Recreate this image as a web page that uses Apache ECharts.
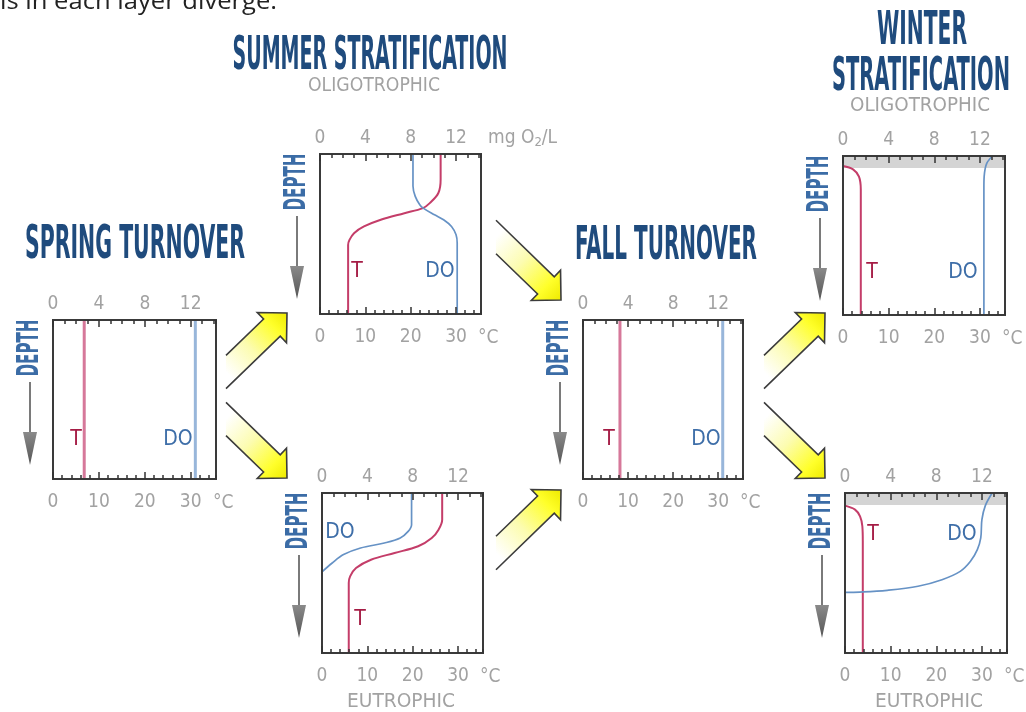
<!DOCTYPE html>
<html>
<head>
<meta charset="utf-8">
<script src="https://cdn.jsdelivr.net/npm/echarts@6/dist/echarts.min.js"></script>
<style>
  html, body { margin: 0; padding: 0; background: #fff; }
  #chart { width: 1026px; height: 712px; }
</style>
</head>
<body>
<div id="chart"></div>
<script>
// profiles: [value, relative depth 0 (surface) .. 1 (bottom)]
// T on the °C scale, DO on the mg O2/L scale
const springT = [[6.8, 0], [6.8, 1]];
const springDO = [[12.4, 0], [12.4, 1]];

const summerOligoT = [[26.6, 0], [26.6, 0.16], [26.1, 0.244], [24.2, 0.307], [22.7, 0.338], [18.6, 0.37],
  [13.4, 0.411], [9.7, 0.453], [7.5, 0.495], [6.5, 0.537], [6.2, 0.568], [6.2, 1]];
const summerOligoDO = [[8.2, 0], [8.2, 0.2], [8.4, 0.265], [8.8, 0.317], [9.1, 0.338], [10.1, 0.38],
  [10.9, 0.411], [11.6, 0.453], [12.0, 0.505], [12.1, 0.557], [12.1, 1]];

const summerEutroT = [[26.5, 0], [26.5, 0.167], [25.7, 0.229], [24.2, 0.281], [21.2, 0.333], [16.0, 0.375],
  [10.8, 0.417], [7.5, 0.469], [6.2, 0.521], [5.9, 0.5625], [5.9, 1]];
const summerEutroDO = [[7.9, 0], [7.9, 0.198], [7.6, 0.24], [6.9, 0.281], [5.5, 0.3125], [3.4, 0.344],
  [1.9, 0.385], [0.9, 0.4375], [0.05, 0.49]];

const fallT = [[8.2, 0], [8.2, 1]];
const fallDO = [[12.4, 0], [12.4, 1]];

const winterOligoT = [[0, 0.063], [2.2, 0.084], [3.5, 0.13], [3.9, 0.21], [3.9, 1]];
const winterOligoDO = [[13.1, 0], [12.6, 0.046], [12.4, 0.109], [12.35, 0.19], [12.35, 1]];

const winterEutroT = [[0, 0.079], [2.2, 0.104], [3.3, 0.146], [3.8, 0.208], [3.9, 0.3], [3.9, 1]];
const winterEutroDO = [[12.9, 0], [12.3, 0.079], [12.0, 0.167], [11.9, 0.281], [11.6, 0.354], [11.0, 0.427],
  [10.1, 0.49], [8.5, 0.542], [6.4, 0.583], [3.7, 0.608], [1.3, 0.619], [0, 0.621]];

const iceDepth = 0.075;

// scales
const mgMax = 14.2, mgMajor = 4, mgMinor = 1;
const tempMax = 35.5, tempMajor = 10, tempMinor = 2;
const tempUnit = '°C';

const LABEL_FONT = '"Liberation Sans Narrow", "DejaVu Sans Condensed", Roboto, sans-serif';
const TITLE_BLUE = '#1f4b7d';
const GRAY = '#a2a2a2';

// panel boxes [left, top, width, height] and label spots relative to box
const panels = [
  { box: [53, 320, 163, 159], T: springT, DO: springDO, flat: true, tAt: [23, 120], doAt: [125, 120] },
  { box: [320, 154, 161, 160], T: summerOligoT, DO: summerOligoDO, tAt: [37, 118], doAt: [120, 118], unit: true },
  { box: [322, 493, 161, 160], T: summerEutroT, DO: summerEutroDO, tAt: [38, 127], doAt: [18, 40] },
  { box: [583, 320, 160, 159], T: fallT, DO: fallDO, flat: true, tAt: [26, 120], doAt: [123, 120] },
  { box: [843, 156, 162, 159], T: winterOligoT, DO: winterOligoDO, ice: true, tAt: [29, 117], doAt: [120, 117] },
  { box: [845, 493, 162, 160], T: winterEutroT, DO: winterEutroDO, ice: true, tAt: [28, 42], doAt: [117, 42] }
];

const titles = [
  { text: 'SUMMER STRATIFICATION', cx: 370, cy: 57, w: 275 },
  { text: 'SPRING TURNOVER', cx: 135, cy: 246, w: 220 },
  { text: 'FALL TURNOVER', cx: 666, cy: 247, w: 182 },
  { text: 'WINTER', cx: 922, cy: 32, w: 90 },
  { text: 'STRATIFICATION', cx: 921, cy: 78, w: 178 }
];
const subtitles = [
  { text: 'OLIGOTROPHIC', cx: 374, cy: 86, w: 132 },
  { text: 'OLIGOTROPHIC', cx: 920, cy: 106, w: 140 },
  { text: 'EUTROPHIC', cx: 401, cy: 702, w: 108 },
  { text: 'EUTROPHIC', cx: 929, cy: 702, w: 108 }
];

// [tail centre, tip]
const flowArrows = [
  [[226, 372], [287, 313]],
  [[226, 419], [287, 478]],
  [[496, 237], [561, 300]],
  [[496, 553], [561, 490]],
  [[764, 372], [825, 313]],
  [[764, 419], [825, 478]]
];

const measureCtx = document.createElement('canvas').getContext('2d');
function fitScale(text, font, width) {
  measureCtx.font = font;
  return width / measureCtx.measureText(text).width;
}

function fittedText(t, size, weight, color) {
  const font = weight + ' ' + size + 'px ' + LABEL_FONT;
  return {
    type: 'text', x: t.cx, y: t.cy, scaleX: fitScale(t.text, font, t.w),
    style: { text: t.text, fontSize: size, fontWeight: weight, fontFamily: LABEL_FONT,
      fill: color, align: 'center', verticalAlign: 'middle' }
  };
}

function arrowElements(tail, tip) {
  const dx = tip[0] - tail[0], dy = tip[1] - tail[1];
  const L = Math.hypot(dx, dy);
  const u = [dx / L, dy / L], n = [-u[1], u[0]];
  const sw = 12, hw = 21, hl = 21;
  const at = (a, b) => [tail[0] + a * u[0] + b * n[0], tail[1] + a * u[1] + b * n[1]];
  // tail is cut along a vertical line through the tail centre
  const cut = b => -b * n[0] / u[0];
  const pts = [at(cut(-sw), -sw), at(L - hl, -sw), at(L - hl, -hw), at(L, 0), at(L - hl, hw), at(L - hl, sw), at(cut(sw), sw)];
  return [
    {
      type: 'polygon', shape: { points: pts },
      style: {
        fill: {
          type: 'linear', x: tail[0], y: tail[1], x2: tip[0], y2: tip[1], global: true,
          colorStops: [
            { offset: 0, color: '#ffffff' }, { offset: 0.4, color: '#fcfcb0' },
            { offset: 0.78, color: '#ffff2a' }, { offset: 1, color: '#eeea00' }
          ]
        }
      }
    },
    { type: 'polyline', shape: { points: pts }, style: { stroke: '#3c3c3c', lineWidth: 1.6, fill: null } }
  ];
}

function depthMarker(bl, bt) {
  const x = bl - 23;
  const font = 'bold 30px ' + LABEL_FONT;
  return [
    {
      type: 'text', x: x, y: bt + 28, rotation: Math.PI / 2, scaleX: fitScale('DEPTH', font, 57),
      style: { text: 'DEPTH', fontSize: 30, fontWeight: 'bold', fontFamily: LABEL_FONT,
        fill: '#3b6ca6', align: 'center', verticalAlign: 'middle' }
    },
    { type: 'line', shape: { x1: x, y1: bt + 62, x2: x, y2: bt + 113 }, style: { stroke: '#7a7a7a', lineWidth: 2 } },
    {
      type: 'polygon', shape: { points: [[x - 7, bt + 112], [x + 7, bt + 112], [x, bt + 145]] },
      style: { fill: { type: 'linear', x: 0, y: 0, x2: 0, y2: 1,
        colorStops: [{ offset: 0, color: '#8a8a8a' }, { offset: 1, color: '#555' }] } }
    }
  ];
}

const grids = [], xAxes = [], yAxes = [], series = [], graphics = [];
const tickStyle = { color: '#333', width: 1.5 };

panels.forEach((p, gi) => {
  const [bl, bt, bw, bh] = p.box;
  grids.push({ left: bl, top: bt, width: bw, height: bh, show: true, borderColor: '#3a3a3a',
    borderWidth: 2, backgroundColor: 'transparent', z: 4 });
  const base = { type: 'value', gridIndex: gi, axisLine: { show: false }, splitLine: { show: false }, z: 5 };
  const label = { color: GRAY, fontSize: 19, fontFamily: LABEL_FONT, showMaxLabel: false, showMinLabel: true };
  xAxes.push(
    { ...base, position: 'top', min: 0, max: mgMax, interval: mgMajor,
      axisTick: { inside: true, length: 7, lineStyle: tickStyle }, axisLabel: { ...label, margin: 6 } },
    { ...base, position: 'top', min: 0, max: mgMax, interval: mgMinor,
      axisTick: { inside: true, length: 4, lineStyle: tickStyle }, axisLabel: { show: false } },
    { ...base, position: 'bottom', min: 0, max: tempMax, interval: tempMajor,
      axisTick: { inside: true, length: 7, lineStyle: tickStyle }, axisLabel: { ...label, margin: 14 } },
    { ...base, position: 'bottom', min: 0, max: tempMax, interval: tempMinor,
      axisTick: { inside: true, length: 4, lineStyle: tickStyle }, axisLabel: { show: false } }
  );
  yAxes.push({ type: 'value', gridIndex: gi, inverse: true, min: 0, max: 1, show: false });

  const tColor = p.flat ? '#d6789a' : '#c43d69';
  const doColor = p.flat ? '#98b6da' : '#6692c5';
  series.push({
    name: 'T', type: 'line', xAxisIndex: gi * 4 + 2, yAxisIndex: gi, data: p.T,
    symbol: 'none', smooth: 0.35, z: 3,
    lineStyle: { color: tColor, width: p.flat ? 3 : 2 }
  });
  const doSeries = {
    name: 'DO', type: 'line', xAxisIndex: gi * 4, yAxisIndex: gi, data: p.DO,
    symbol: 'none', smooth: 0.35, z: 3,
    lineStyle: { color: doColor, width: p.flat ? 3 : 1.7 }
  };
  if (p.ice) {
    doSeries.markArea = { silent: true, itemStyle: { color: '#d4d4d4' },
      data: [[{ yAxis: 0 }, { yAxis: iceDepth }]] };
  }
  series.push(doSeries);

  graphics.push(
    { type: 'text', x: bl + p.tAt[0], y: bt + p.tAt[1], style: { text: 'T', fontSize: 21, fontFamily: LABEL_FONT,
      fill: '#a51c45', align: 'center', verticalAlign: 'middle' } },
    { type: 'text', x: bl + p.doAt[0], y: bt + p.doAt[1], style: { text: 'DO', fontSize: 21, fontFamily: LABEL_FONT,
      fill: '#3e6ea8', align: 'center', verticalAlign: 'middle' } },
    { type: 'text', x: bl + bw - 3, y: bt + bh + 24, style: { text: tempUnit, fontSize: 19, fontFamily: LABEL_FONT,
      fill: GRAY, align: 'left', verticalAlign: 'middle' } }
  );
  if (p.unit) {
    graphics.push({ type: 'text', x: bl + bw + 7, y: bt - 16, style: {
      text: 'mg O{s|2}/L', fontSize: 19, fontFamily: LABEL_FONT, fill: GRAY, align: 'left', verticalAlign: 'middle',
      rich: { s: { fontSize: 13, fontFamily: LABEL_FONT, fill: GRAY, verticalAlign: 'bottom', padding: [9, 0, 0, 0] } }
    } });
  }
  graphics.push(...depthMarker(bl, bt));
});

titles.forEach(t => graphics.push(fittedText(t, 47, 'bold', TITLE_BLUE)));
subtitles.forEach(t => graphics.push(fittedText(t, 20, 'normal', GRAY)));
flowArrows.forEach(a => graphics.push(...arrowElements(a[0], a[1])));

const leadText = 'ls in each layer diverge.';
const leadFont = '24px "Open Sans", "Noto Sans", sans-serif';
graphics.push({ type: 'text', x: 0, y: 14, scaleX: fitScale(leadText, leadFont, 277), style: { text: leadText,
  fontSize: 24, fontFamily: '"Open Sans", "Noto Sans", sans-serif', fill: '#222', align: 'left', verticalAlign: 'bottom' } });

const chart = echarts.init(document.getElementById('chart'));
chart.setOption({
  animation: false,
  backgroundColor: '#fff',
  grid: grids,
  xAxis: xAxes,
  yAxis: yAxes,
  series: series,
  graphic: { elements: graphics }
});
window.addEventListener('resize', () => chart.resize());
</script>
</body>
</html>
